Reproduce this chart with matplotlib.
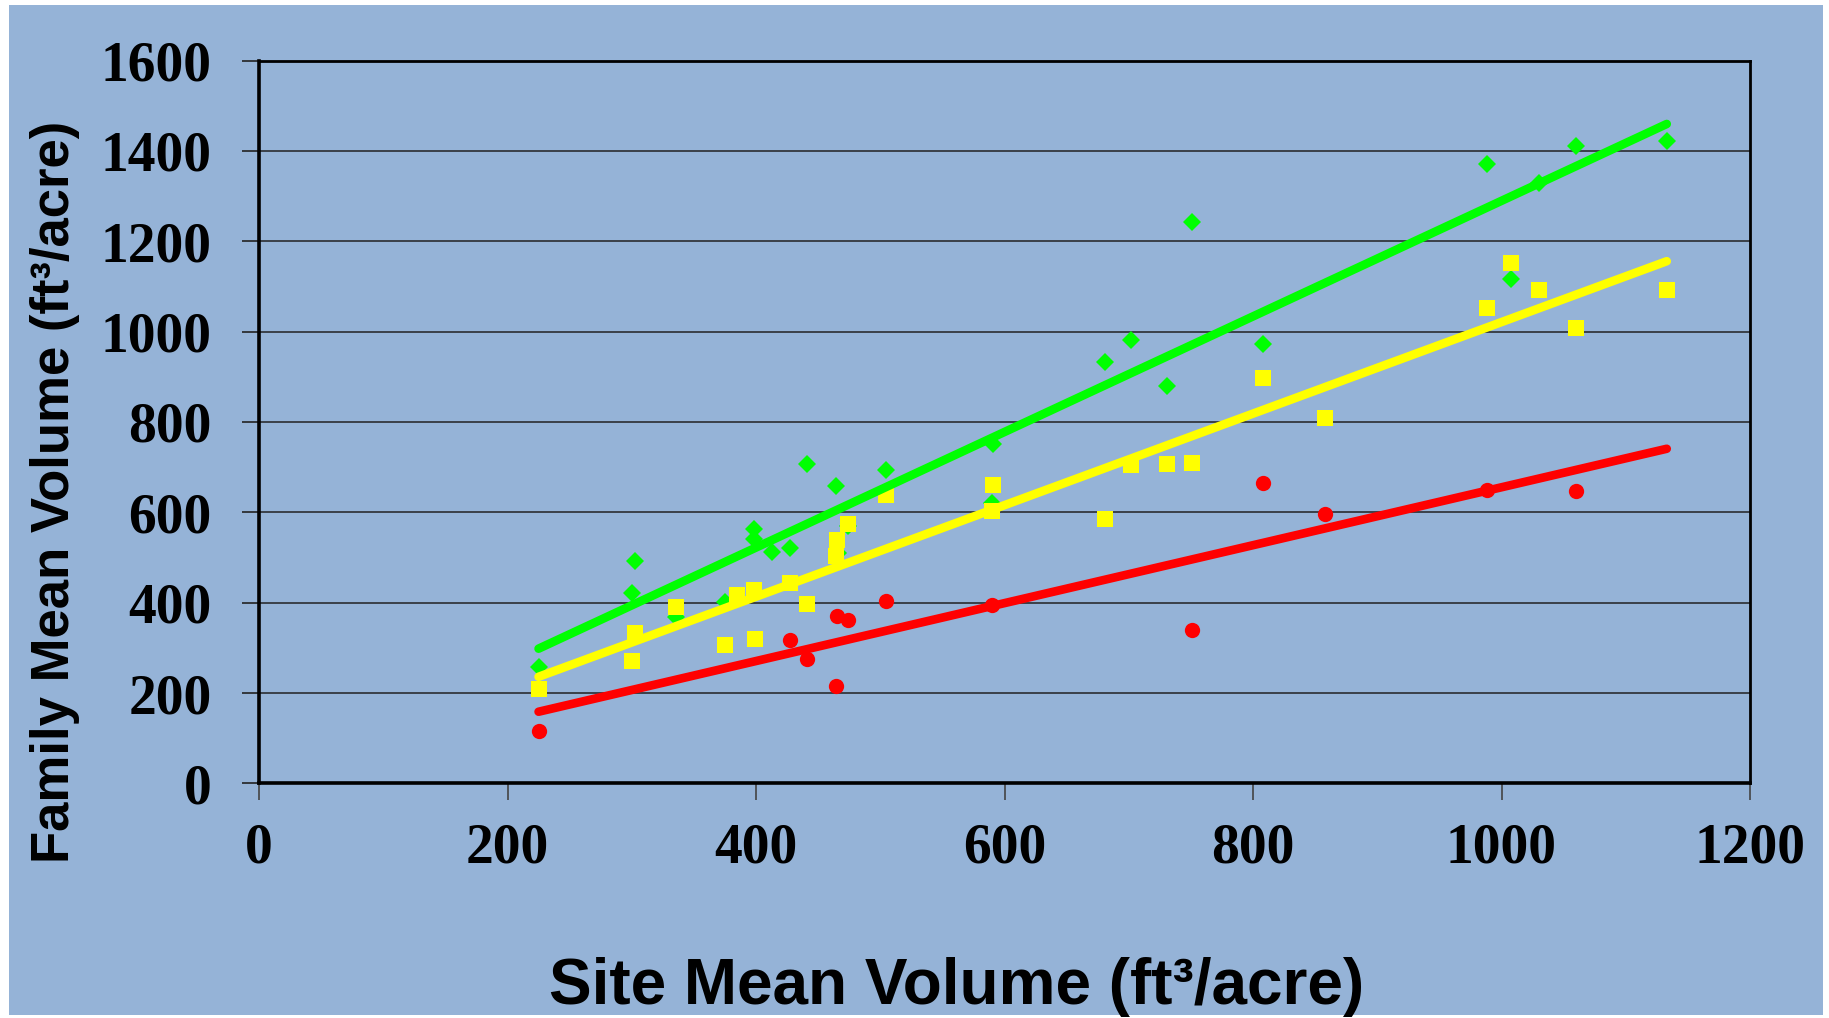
import matplotlib
matplotlib.use("Agg")
import matplotlib.pyplot as plt
from matplotlib.patches import Rectangle
import numpy as np

# ---- data ----
green_x = [225, 300, 303, 336, 375, 398, 398, 413, 427, 441, 464, 466, 474, 505,
           590, 591, 681, 702, 731, 751, 808, 988, 1008, 1030, 1060, 1133]
green_y = [258, 421, 492, 369, 402, 562, 542, 512, 522, 707, 659, 511, 569, 694,
           620, 752, 932, 981, 879, 1242, 973, 1372, 1117, 1328, 1410, 1422]

yellow_x = [225, 300, 303, 336, 375, 385, 398, 399, 427, 441, 464, 465, 474, 505,
            590, 591, 681, 702, 731, 751, 808, 858, 988, 1008, 1030, 1060, 1133]
yellow_y = [209, 271, 332, 390, 306, 417, 429, 319, 443, 398, 504, 539, 575, 638,
            603, 660, 585, 705, 708, 710, 898, 808, 1053, 1152, 1093, 1009, 1092]

red_x = [225, 427, 441, 464, 465, 474, 505, 590, 751, 808, 858, 988, 1060]
red_y = [116, 318, 275, 216, 370, 362, 404, 395, 339, 664, 596, 649, 648]

# linear trend lines (slope, intercept)
green_trend = (1.279, 10.4)
yellow_trend = (1.013, 8.0)
red_trend = (0.641, 14.4)
trend_range = [225, 1133]

x_ticks = [0, 200, 400, 600, 800, 1000, 1200]
y_ticks = [0, 200, 400, 600, 800, 1000, 1200, 1400, 1600]
x_label = "Site Mean Volume (ft\u00b3/acre)"
y_label = "Family Mean Volume (ft\u00b3/acre)"

# ---- figure ----
W, H = 1829, 1018
fig = plt.figure(figsize=(W / 100, H / 100), dpi=100, facecolor="white")
bg = "#95B3D7"
fig.patches.append(Rectangle((9 / W, 3 / H), (1823 - 9) / W, (1013 - 3) / H,
                             transform=fig.transFigure, facecolor=bg,
                             edgecolor="none", zorder=-10))

ax = fig.add_axes([259 / W, 1 - 783.4 / H, (1750 - 259) / W, (783.4 - 60.5) / H])
ax.set_zorder(5)
ax.set_facecolor("none")

ax.set_xlim(0, 1200)
ax.set_ylim(0, 1600)
ax.set_xticks(x_ticks)
ax.set_yticks(y_ticks)
ax.set_xticklabels([str(v) for v in x_ticks])
ax.set_yticklabels([str(v) for v in y_ticks])

for t in ax.get_xticklabels() + ax.get_yticklabels():
    t.set_fontfamily("Liberation Serif")
    t.set_fontweight("bold")
    t.set_fontsize(40)

ax.tick_params(axis="y", direction="out", length=12, width=1.2, color="#222222", pad=22)
ax.tick_params(axis="x", direction="out", length=12, width=1.2, color="#444444", pad=16)

ax.yaxis.grid(True, color="#222222", linewidth=1.1)
ax.xaxis.grid(False)
ax.set_axisbelow(True)

for side in ["left", "bottom"]:
    ax.spines[side].set_linewidth(2.6)
for side in ["top", "right"]:
    ax.spines[side].set_linewidth(2.0)
for s in ax.spines.values():
    s.set_color("black")
    s.set_zorder(5)

# scatter markers
ax.plot(green_x, green_y, linestyle="none", marker="D", markersize=9,
        color="#00FF00", markeredgewidth=0, zorder=3)
ax.plot(yellow_x, yellow_y, linestyle="none", marker="s", markersize=11,
        color="#FFFF00", markeredgewidth=0, zorder=3.1)
ax.plot(red_x, red_y, linestyle="none", marker="o", markersize=11,
        color="#FF0000", markeredgewidth=0, zorder=3.2)

# trend lines
tx = np.array(trend_range, dtype=float)
for (m, b), c in [(red_trend, "#FF0000"), (yellow_trend, "#FFFF00"), (green_trend, "#00FF00")]:
    ax.plot(tx, m * tx + b, color=c, linewidth=6.2, solid_capstyle="round", zorder=4)

# axis titles
fig.text(957 / W, 1 - 1004 / H, x_label, ha="center", va="baseline",
         fontfamily="Liberation Sans", fontweight="bold", fontsize=46)
fig.text(55 / W, 1 - 492 / H, y_label, ha="center", va="center", rotation=90,
         fontfamily="Liberation Sans", fontweight="bold", fontsize=38)

fig.savefig("out.png", dpi=100, facecolor=fig.get_facecolor())
